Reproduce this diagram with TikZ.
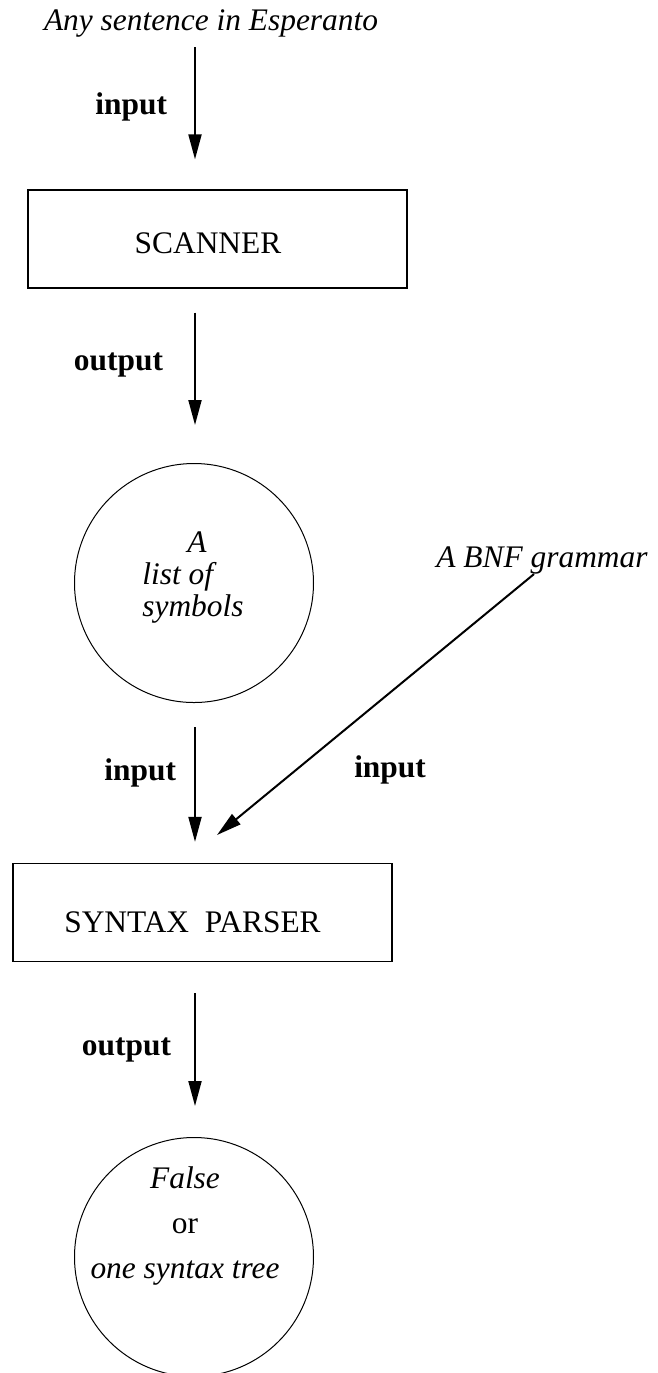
\documentclass[tikz,border=0pt]{standalone}
\usepackage{fontspec}
\setmainfont{Liberation Serif}
\usepackage{tikz}
\usetikzlibrary{arrows.meta,positioning}
\newcommand{\diagsize}{\fontsize{15.7pt}{16pt}\selectfont}
\tikzset{
  stage/.style={ draw, line width=0.65pt, minimum width=189.5pt, minimum height=49pt, inner sep=0pt }
}
\tikzset{
  store/.style={ draw, circle, line width=0.5pt, minimum size=119.5pt, inner sep=0pt }
}
\tikzset{
  flow/.style={ -{Triangle[length=12.5pt,width=6.5pt]}, line width=1pt }
}
\tikzset{
  tag/.style={ font=\diagsize\bfseries, inner sep=0pt }
}
\tikzset{
  plain/.style={ font=\diagsize, inner sep=0pt }
}
\tikzset{
  slanted/.style={ font=\diagsize\itshape, inner sep=0pt }
}

\begin{document}
\begin{tikzpicture}[x=0.5pt, y=-0.5pt]
      \useasboundingbox (0,0) rectangle (658,1373);
      \coordinate (axis) at (195,0);
      % data and stages
      \node[slanted, anchor=base] (src) at (211,30) {Any sentence in Esperanto};
      \node[stage] (scanner) at (217.5,239) {};
      \node[plain] (scannername) at (208,243) {SCANNER};
      \node[store] (symbols) at (194,583) {};
      \node[slanted, anchor=west, align=left] (symbolstext) at (142,578)
        {\hspace*{22.5pt}A\\ list of\\ symbols};
      \node[slanted, anchor=base] (bnf) at (542,567) {A BNF grammar};
      \coordinate (join) at (217,835);
      \node[stage] (parser) at (202.5,912.5) {};
      \node[plain] (parsername) at (192.5,922) {SYNTAX\ \ PARSER};
      \node[store] (result) at (194,1257) {};
      \node[plain, align=center, font=\fontsize{15.7pt}{22.5pt}\selectfont] (resulttext) at (185,1226)
        {\textit{False}\\ or\\ \textit{one syntax tree}};
      % arrows
      \draw[flow, shorten <=5pt, shorten >=15pt] (src.south -| axis) -- node[tag, pos=0.46, left=13.5pt] {input} (scanner.north -| axis);
      \draw[flow, shorten <=12pt, shorten >=19pt] (scanner.south -| axis) -- node[tag, pos=0.44, left=15.5pt] {output} (symbols.north -| axis);
      \draw[flow, shorten <=12pt, shorten >=10.5pt] (symbols.south -| axis) -- node[tag, pos=0.44, left=9pt] {input} (parser.north -| axis);
      \draw[flow] ([xshift=-4pt]bnf.south) -- node[tag, pos=0.75, right=28.5pt] {input} (join);
      \draw[flow, shorten <=15.5pt, shorten >=15.5pt] (parser.south -| axis) -- node[tag, pos=0.5, left=11.5pt] {output} (result.north -| axis);
    \end{tikzpicture}
\end{document}
